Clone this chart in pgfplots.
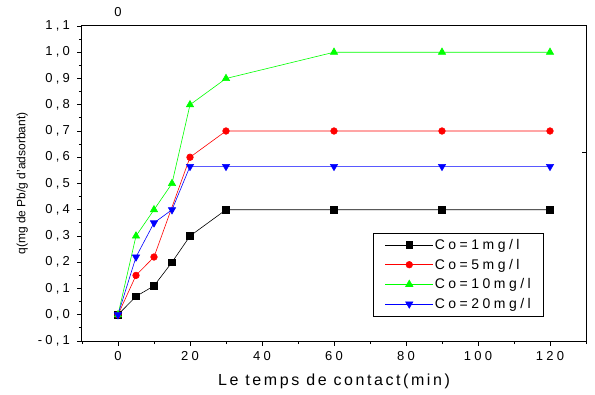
\documentclass[border=0pt]{standalone}
\usepackage{fontspec}
\setmainfont{Liberation Sans}
\newfontfamily\spacedx[LetterSpace=16]{Liberation Sans}
\newfontfamily\spacedt[LetterSpace=25]{Liberation Sans}
\usepackage{pgfplots}
\pgfplotsset{compat=1.18}
\begin{document}
\begin{tikzpicture}
\begin{axis}[
  name=ax,
  scale only axis,
  width=504pt, height=315pt,
  xmin=-10, xmax=130, ymin=-0.1, ymax=1.1,
  clip=false,
  axis line style={draw=black, line width=1pt},
  xtick={0,20,40,60,80,100,120}, minor xtick={-10,10,30,50,70,90,110,130},
  ytick={-0.1,0,0.1,0.2,0.3,0.4,0.5,0.6,0.7,0.8,0.9,1.0,1.1},
  minor ytick={-0.05,0.05,0.15,0.25,0.35,0.45,0.55,0.65,0.75,0.85,0.95,1.05},
  tick pos=left, tick align=outside,
  major tick length=4.5pt, minor tick length=3pt,
  tick style={line width=0.9pt, black},
  /pgf/number format/assume math mode=true,
  yticklabel style={xshift=-4pt, /pgf/number format/.cd, fixed, fixed zerofill, precision=1, use comma},
  ticklabel style={font=\spacedt\fontsize{13}{15}\selectfont},
  xticklabel style={yshift=-2pt},
  xlabel={\spacedx\fontsize{16}{18}\selectfont Le temps de contact(min)},
  ylabel={\fontsize{12}{14}\selectfont q(mg de Pb/g d'adsorbant)},
  xlabel style={yshift=-7pt},
  ylabel style={yshift=3pt},
  legend style={at={(0.915,0.079)}, anchor=south east, draw=black, line width=0.6pt,
    font=\spacedt\fontsize{14}{16}\selectfont, row sep=4pt, inner xsep=11pt, inner ysep=4pt,
    nodes={inner xsep=1pt}},
  legend cell align=left,
  legend image code/.code={\draw[#1] (0cm,0cm) -- (0.85cm,0cm) plot coordinates {(0.85cm,0cm)} -- (1.7cm,0cm);},
]
\addplot[black, mark=square*, mark size=3.3pt, line width=0.6pt] coordinates {
(0,0) (5,0.07) (10,0.11) (15,0.2) (20,0.3) (30,0.4) (60,0.4) (90,0.4) (120,0.4)};
\addlegendentry{Co=1mg/l}
\addplot[red, mark=*, mark size=3.3pt, line width=0.6pt] coordinates {
(0,0) (5,0.15) (10,0.22) (20,0.6) (30,0.7) (60,0.7) (90,0.7) (120,0.7)};
\addlegendentry{Co=5mg/l}
\addplot[green, mark=triangle*, mark size=4.2pt, line width=0.6pt] coordinates {
(0,0) (5,0.3) (10,0.4) (15,0.5) (20,0.8) (30,0.9) (60,1.0) (90,1.0) (120,1.0)};
\addlegendentry{Co=10mg/l}
\addplot[blue, mark=triangle*, mark options={rotate=180}, mark size=4.2pt, line width=0.6pt] coordinates {
(0,0) (5,0.22) (10,0.35) (15,0.4) (20,0.565) (30,0.565) (60,0.565) (90,0.565) (120,0.565)};
\addlegendentry{Co=20mg/l}
\draw[black, line width=0.9pt] (rel axis cs:1,0.6) -- (rel axis cs:0.992,0.6);
\end{axis}
\draw[black, line width=1pt] (ax.south west) rectangle (ax.north east);
\node[font=\fontsize{13}{15}\selectfont] at ([xshift=36pt,yshift=14pt]ax.north west) {0};
\path ([xshift=-82pt,yshift=-53pt]ax.south west) rectangle ([xshift=9pt,yshift=26pt]ax.north east);
\end{tikzpicture}
\end{document}
